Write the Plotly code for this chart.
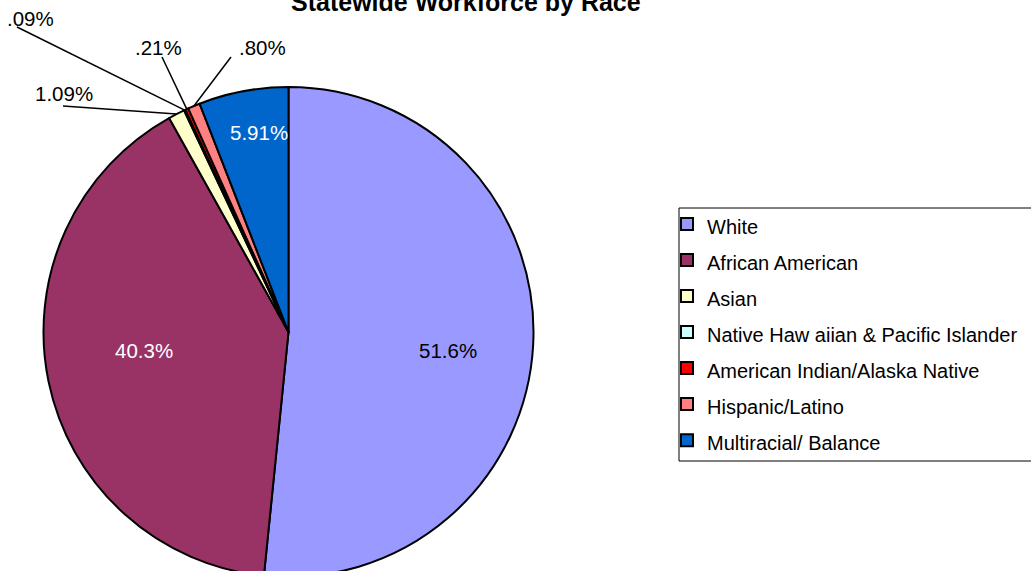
import math
import plotly.graph_objects as go

# ---- data ---------------------------------------------------------------
categories = [
    "White",
    "African American",
    "Asian",
    "Native Haw aiian & Pacific Islander",
    "American Indian/Alaska Native",
    "Hispanic/Latino",
    "Multiracial/ Balance",
]
shares = [51.6, 40.3, 1.09, 0.09, 0.21, 0.80, 5.91]
slice_colors = ["#9999FF", "#993366", "#FFFFCC", "#CCFFFF", "#FF0000", "#FF8080", "#0066CC"]
title_text = "Statewide Workforce by Race"

# ---- layout geometry (pixels) ----------------------------------------------
W, H = 1060, 600
CX, CY, R = 288.5, 332.0, 245.0
FONT = "Liberation Sans, Arial, sans-serif"

# label centres for each slice, and where the leader lines start
label_centres = [(448, 350), (144, 350), (64, 93), (30, 19), (158.5, 47), (262.5, 47), (259, 132.5)]
label_colors = ["black", "white", "black", "black", "black", "black", "white"]
leader_starts = {2: (63, 106), 3: (17, 27), 4: (162, 57), 5: (231, 57)}


def paper(px, py):
    return px / W, 1 - py / H


def fmt_pct(v):
    if v >= 10:
        s = f"{v:.1f}"
    else:
        s = f"{v:.2f}"
        if s.startswith("0"):
            s = s[1:]
    return s + "%"


# pie placement
x0, y1 = paper(CX - R, CY - R)
x1, y0 = paper(CX + R, CY + R)

legend_names = [f'<span style="font-size:20px">{c}</span>' for c in categories]

fig = go.Figure(
    go.Pie(
        labels=legend_names,
        values=shares,
        sort=False,
        direction="clockwise",
        rotation=0,
        textinfo="none",
        hoverinfo="label+percent",
        marker=dict(colors=slice_colors, line=dict(color="black", width=2)),
        domain=dict(x=[x0, x1], y=[max(y0, 0), y1]),
    )
)

annotations = []
shapes = []
total = sum(shares)
cum = 0.0
for i, v in enumerate(shares):
    mid = math.radians(360.0 * (cum + v / 2) / total)
    cum += v
    lx, ly = label_centres[i]
    ax_, ay_ = paper(lx, ly)
    annotations.append(dict(
        x=ax_, y=ay_, xref="paper", yref="paper", showarrow=False,
        text=fmt_pct(v), xanchor="center", yanchor="middle",
        font=dict(family=FONT, size=20.5, color=label_colors[i]),
    ))
    if i in leader_starts:
        sx, sy = leader_starts[i]
        ex = CX + R * math.sin(mid)
        ey = CY - R * math.cos(mid)
        p0 = paper(sx, sy)
        p1 = paper(ex, ey)
        shapes.append(dict(type="line", xref="paper", yref="paper",
                           x0=p0[0], y0=p0[1], x1=p1[0], y1=p1[1],
                           line=dict(color="black", width=1.5)))

# chart title
tx, ty = paper(466, 2.5)
annotations.append(dict(
    x=tx, y=ty, xref="paper", yref="paper", showarrow=False,
    text=f"<b>{title_text}</b>", xanchor="center", yanchor="middle",
    font=dict(family=FONT, size=25, color="black"),
))

# legend frame
bx0, by0 = paper(679, 461)
bx1, by1 = paper(1059, 208)
shapes.append(dict(type="rect", xref="paper", yref="paper",
                   x0=bx0, y0=by0, x1=bx1, y1=by1,
                   line=dict(color="black", width=1), fillcolor="rgba(0,0,0,0)"))

lgx, lgy = paper(667, 201)
fig.update_layout(
    width=W, height=H,
    margin=dict(l=0, r=0, t=0, b=0, pad=0, autoexpand=False),
    paper_bgcolor="white", plot_bgcolor="white",
    showlegend=True,
    legend=dict(
        x=lgx, y=lgy, xanchor="left", yanchor="top",
        font=dict(family=FONT, size=25.4, color="black"),
        bgcolor="rgba(0,0,0,0)", borderwidth=0,
    ),
    annotations=annotations,
    shapes=shapes,
)

fig.write_html(
    "out.html",
    post_script=(
        "document.documentElement.style.overflow='hidden';"
        "document.body.style.overflow='hidden';"
        "document.body.style.margin='0';"
    ),
)
